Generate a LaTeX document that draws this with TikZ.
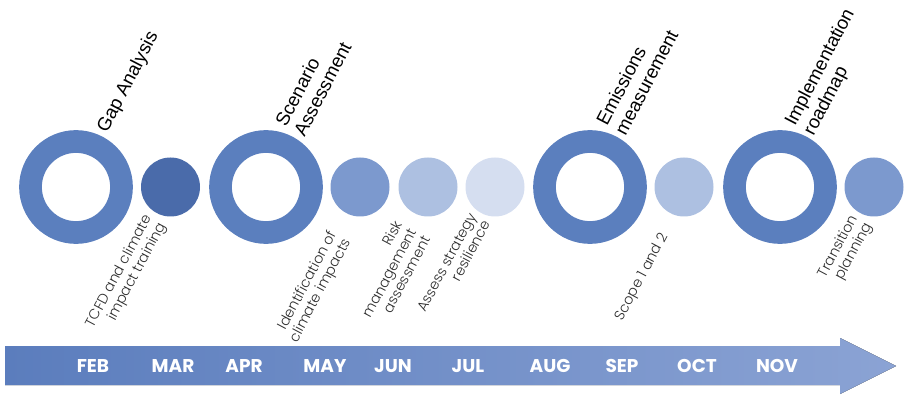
\documentclass[tikz,border=0pt]{standalone}
\usepackage{fontspec}
\setmainfont{Liberation Sans}
\newfontfamily\lightfont{Poppins Light}
\newfontfamily\popfont{Poppins}
\definecolor{ringblue}{RGB}{91,127,190}
\definecolor{dotA}{RGB}{74,107,170}
\definecolor{dotB}{RGB}{124,153,206}
\definecolor{dotC}{RGB}{173,192,225}
\definecolor{dotD}{RGB}{213,222,240}
\definecolor{barL}{RGB}{91,125,189}
\definecolor{barR}{RGB}{139,163,212}
\definecolor{lblgray}{RGB}{45,45,45}
\tikzset{
  ring/.style={circle, draw=ringblue, line width=22.7pt, minimum size=91pt, inner sep=0pt},
  dot/.style={circle, minimum size=59pt, inner sep=0pt},
  month/.style={text=white, font=\popfont\bfseries\fontsize{18.5}{20}\selectfont, inner sep=0pt},
  title/.style={text=black, font=\fontsize{18.8}{21}\selectfont, inner sep=0pt, anchor=base west},
  lbl/.style={text=lblgray, font=\lightfont\fontsize{14.2}{16}\selectfont, inner sep=0pt, anchor=base east}
}
\begin{document}
\begin{tikzpicture}[x=1pt,y=1pt]
\useasboundingbox (0,0) rectangle (905,394);
% arrow
\fill[left color=barL, right color=barR] (5,9) -- (840,9) -- (840,0) -- (896,28) -- (840,56) -- (840,48) -- (5,48) -- cycle;
% rings and dots
\node[ring] (r1) at (76,207) {};
\node[dot, fill=dotA] (d1) at (170.5,207) {};
\node[ring] (r2) at (266,207) {};
\node[dot, fill=dotB] (d2) at (360,207) {};
\node[dot, fill=dotC] (d3) at (428,207) {};
\node[dot, fill=dotD] (d4) at (495,207) {};
\node[ring] (r3) at (590,207) {};
\node[dot, fill=dotC] (d5) at (684,207) {};
\node[ring] (r4) at (780,207) {};
\node[dot, fill=dotB] (d6) at (874,207) {};
% months
\node[month] (feb) at (93,28) {FEB};
\node[month] (mar) at (173,28) {MAR};
\node[month] (apr) at (244,28) {APR};
\node[month] (may) at (325,28) {MAY};
\node[month] (jun) at (393,28) {JUN};
\node[month] (jul) at (468,28) {JUL};
\node[month] (aug) at (550,28) {AUG};
\node[month] (sep) at (622,28) {SEP};
\node[month] (oct) at (697,28) {OCT};
\node[month] (nov) at (777,28) {NOV};
% titles
\begin{scope}[shift={(107,260)}, rotate=62.5, transform shape]
\node[title] (t1) at (0,0) {Gap Analysis};
\end{scope}
\begin{scope}[shift={(286,266)}, rotate=62.5, transform shape]
\node[title] (t2a) at (0,0) {Scenario};
\node[title] (t2b) at (0,-21) {Assessment};
\end{scope}
\begin{scope}[shift={(607,267)}, rotate=62.5, transform shape]
\node[title] (t3a) at (0,0) {Emissions};
\node[title] (t3b) at (0,-21) {measurement};
\end{scope}
\begin{scope}[shift={(795,267)}, rotate=62.5, transform shape]
\node[title] (t4a) at (0,0) {Implementation};
\node[title] (t4b) at (0,-21) {roadmap};
\end{scope}
% lower labels
\begin{scope}[shift={(152,176)}, rotate=62, transform shape]
\node[lbl] (l1a) at (0,0) {TCFD and climate};
\node[lbl] (l1b) at (0,-16) {impact training};
\end{scope}
\begin{scope}[shift={(337,160)}, rotate=62, transform shape]
\node[lbl] (l2a) at (0,0) {Identification of};
\node[lbl] (l2b) at (0,-16) {climate impacts};
\end{scope}
\begin{scope}[shift={(403,170)}, rotate=62, transform shape]
\node[lbl] (l3a) at (0,0) {Risk};
\node[lbl] (l3b) at (0,-16) {management};
\node[lbl] (l3c) at (0,-32) {assessment};
\end{scope}
\begin{scope}[shift={(477,178)}, rotate=62, transform shape]
\node[lbl] (l4a) at (0,0) {Assess strategy};
\node[lbl] (l4b) at (0,-16) {resilience};
\end{scope}
\begin{scope}[shift={(668,158)}, rotate=62, transform shape]
\node[lbl] (l5) at (0,0) {Scope 1 and 2};
\end{scope}
\begin{scope}[shift={(858,176)}, rotate=62, transform shape]
\node[lbl] (l6a) at (0,0) {Transition};
\node[lbl] (l6b) at (0,-16) {planning};
\end{scope}
\end{tikzpicture}
\end{document}
